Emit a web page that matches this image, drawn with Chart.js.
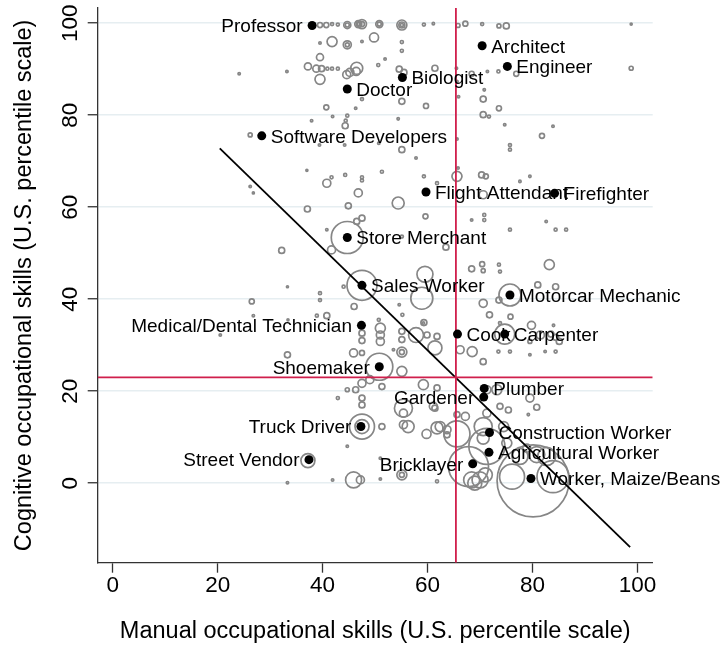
<!DOCTYPE html>
<html>
<head>
<meta charset="utf-8">
<script src="https://cdn.jsdelivr.net/npm/chart.js@4.4.1/dist/chart.umd.min.js"></script>
<style>
  html, body { margin: 0; padding: 0; background: #fff; }
  #skills { display: block; }
</style>
</head>
<body>
<canvas id="skills" width="724" height="648"></canvas>
<script>
// labelled occupations
var occNames = ['Professor', 'Architect', 'Engineer', 'Biologist', 'Doctor', 'Software Developers',
  'Flight Attendant', 'Firefighter', 'Store Merchant', 'Sales Worker', 'Motorcar Mechanic',
  'Medical/Dental Technician', 'Cook', 'Carpenter', 'Shoemaker', 'Plumber', 'Gardener',
  'Truck Driver', 'Construction Worker', 'Agricultural Worker', 'Street Vendor', 'Bricklayer',
  'Worker, Maize/Beans'];
var occManual = [38.0, 70.4, 75.2, 55.2, 44.7, 28.4, 59.7, 84.2, 44.7, 47.5, 75.7, 47.4, 65.7, 74.7,
  50.8, 70.8, 70.7, 47.3, 71.8, 71.7, 37.4, 68.6, 79.7];
var occCognitive = [99.5, 95.1, 90.6, 88.2, 85.7, 75.5, 63.3, 63.0, 53.4, 43.0, 40.9, 34.3, 32.4, 32.4,
  25.3, 20.6, 18.7, 12.3, 11.0, 6.7, 5.1, 4.2, 1.0];
var leftLabels = ['Professor', 'Medical/Dental Technician', 'Shoemaker', 'Gardener', 'Truck Driver',
  'Street Vendor', 'Bricklayer'];

// all other occupations (manual, cognitive, employment weight)
var grayManual = [
  39.5,40.7,41.8,42.9,44.7,46.8,47.5,50.8,55.1,59.3,
  61.1,65.8,67.2,70.4,73.6,75.0,98.8,39.5,41.8,44.7,
  44.7,47.5,49.8,55.1,55.1,39.5,37.2,38.8,39.8,40.9,
  41.8,42.9,44.6,45.2,46.5,46.4,39.5,33.2,50.6,51.9,
  54.6,55.5,61.4,47.5,55.1,59.7,40.7,46.3,70.6,65.9,
  71.4,73.5,24.1,65.5,68.4,76.9,65.6,70.8,73.6,70.6,
  71.7,74.7,83.9,81.8,75.7,75.7,65.6,98.8,37.9,41.9,
  44.7,44.4,44.3,54.4,26.2,39.4,44.2,50.7,55.1,57.8,
  65.8,37.0,41.7,40.8,44.3,47.5,47.5,51.3,59.3,61.8,
  65.6,70.3,71.1,79.5,77.6,54.4,46.8,44.9,37.1,26.2,
  26.8,70.6,70.8,70.8,68.4,59.6,47.5,46.5,40.8,32.2,
  41.7,44.7,55.1,63.5,75.7,82.6,84.4,86.4,83.2,68.4,
  70.4,70.6,73.6,73.8,47.5,59.5,58.9,81.0,84.4,75.7,
  70.6,73.6,26.5,33.3,39.5,39.5,44.0,46.0,54.6,26.8,
  38.9,40.8,50.7,55.2,59.3,71.8,75.8,73.8,79.8,84.0,
  81.5,84.4,83.5,85.1,74.7,79.5,84.4,82.4,79.5,75.7,
  73.5,47.5,47.5,20.5,33.4,51.0,51.0,51.0,55.1,55.1,
  57.8,59.2,59.9,61.8,61.4,66.2,68.5,70.6,55.1,55.1,
  53.5,45.9,47.5,33.3,50.8,55.1,59.2,61.8,47.5,49.0,
  46.3,44.7,51.3,42.9,47.5,47.5,55.4,55.4,56.3,55.4,
  61.4,61.8,63.7,65.6,59.8,67.2,65.6,71.3,73.8,75.4,
  79.5,80.8,79.2,70.6,71.3,67.8,68.4,70.0,71.0,69.0,
  76.1,80.1,83.9,82.7,80.8,77.6,78.9,75.1,70.6,73.2,
  71.3,61.8,45.9,47.2,55.1,55.1,51.0,33.3,41.9,51.0,
  44.7,47.5,51.3,62.4,63.7,37.2,61.1,74.5,47.5,44.7,
  46.8,47.5,50.8,55.1,55.1];
var grayCognitive = [
  99.6,99.6,99.8,99.7,99.6,99.8,99.8,99.8,99.6,99.7,
  99.9,99.5,99.9,99.8,99.4,99.4,99.8,95.7,96.0,95.3,
  95.3,96.0,96.9,95.9,94.0,92.6,90.6,90.1,90.1,90.1,
  90.1,90.1,88.8,89.3,90.2,89.5,87.8,89.5,90.9,92.2,
  90.0,89.3,90.2,83.5,83.0,82.0,81.7,81.5,83.5,84.0,
  89.5,89.5,89.0,90.2,89.0,89.0,87.3,85.5,81.5,80.1,
  79.7,77.9,77.6,75.5,73.5,72.5,74.8,90.2,78.8,79.7,
  79.9,78.8,77.7,79.2,75.7,73.5,73.5,73.9,72.5,70.7,
  68.5,68.0,66.5,65.2,67.0,66.5,65.8,67.7,66.7,65.2,
  66.7,67.0,66.7,66.7,65.6,60.9,63.1,60.3,59.6,64.5,
  63.1,62.7,58.3,57.2,57.2,58.0,57.6,56.9,55.1,50.6,
  50.7,53.4,53.6,51.3,55.1,56.9,55.1,55.1,47.5,46.6,
  47.6,46.2,47.5,46.0,43.0,45.4,40.2,43.1,42.7,40.9,
  39.1,39.8,39.5,42.7,41.3,39.8,42.7,38.4,38.8,36.4,
  36.4,36.4,35.5,36.6,34.9,36.6,36.2,34.8,34.3,34.3,
  32.2,31.7,32.4,30.8,32.4,30.8,28.6,28.6,27.9,28.6,
  28.6,32.6,31.0,32.2,35.5,33.7,32.2,30.8,33.0,31.2,
  32.2,34.8,32.2,31.9,29.4,29.0,28.6,26.4,28.5,28.5,
  29.0,28.3,28.3,27.9,25.3,24.3,21.4,20.7,21.7,22.5,
  20.3,20.3,21.0,18.5,18.5,17.0,16.3,15.2,12.3,12.7,
  16.3,12.0,11.6,10.7,10.7,14.5,14.9,15.2,16.7,15.9,
  18.5,16.5,14.9,12.3,8.0,3.6,0.7,0.7,1.8,0.0,
  1.4,0.5,1.4,5.8,6.2,5.8,7.6,8.7,9.8,20.3,
  20.3,0.4,0.7,0.7,1.8,1.8,0.9,0.1,0.7,5.4,
  8.0,12.3,12.3,12.3,10.5,4.9,16.7,12.3,12.3,99.6,
  99.8,99.8,99.8,99.6,99.6];
var grayEmp = [
  6.3,6.3,2.3,2.3,12.3,12.3,20.3,12.3,25,2.3,
  1.4,4,6.3,2.3,4,9,1,1.4,25,16,
  4,1.4,20.3,2.3,2.3,12.3,12.3,12.3,9,2.3,
  2.3,2.3,16,16,36,16,25,1.4,2.3,1.4,
  9,9,9,2.3,9,6.3,6.3,1.4,9,1.4,
  1.4,2.3,1.4,1.4,6.3,6.3,1.4,1.4,6.3,9,
  2.3,1.4,1.4,6.3,2.3,2.3,1.4,4,1.4,1.4,
  2.3,2.3,9,1.4,4,1.4,1.4,1.4,9,1.4,
  1.4,1,2.3,16,2.3,2.3,2.3,2.3,2.3,2.3,
  25,9,6.3,1.4,1.4,36,16,9,9,1.4,
  1,16,2.3,2.3,1.4,6.3,9,9,1.4,9,
  16,256,2.3,9,2.3,1.4,2.3,2.3,25,9,
  6.3,4,2.3,2.3,225,64,121,9,9,121,
  16,9,6.3,1,2.3,2.3,2.3,9,1.4,1.4,
  2.3,9,2.3,2.3,9,9,6.3,2.3,16,1.4,
  16,9,9,9,100,4,2.3,1.4,1.4,2.3,
  2.3,9,9,1.4,1,25,16,16,9,9,
  56,1.4,9,9,49,16,25,9,25,6.3,
  1.4,16,6.3,9,182,25,25,9,16,16,
  9,4,9,2.3,9,9,81,16,36,16,
  9,36,16,169,20.3,16,9,16,9,9,
  16,9,1.4,81,324,400,64,64,49,49,
  156,1296,256,81,64,64,16,25,36,25,
  16,2.3,64,16,25,6.3,1.4,1.4,1.4,1.4,
  1.4,156,9,25,9,49,16,25,49,4,
  4,6.3,4,9,2.3];

// fitted line, means, axes
var fitX = [20.4, 98.6];
var fitY = [72.8, -13.9];
var meanManual = 65.4;
var meanCognitive = 23.0;
var xRange = [-2.86, 102.9];
var yRange = [-17.3, 103.3];
var xTicks = [0, 20, 40, 60, 80, 100];
var yTicks = [0, 20, 40, 60, 80, 100];

var FONT = "'Liberation Sans', Arial, Helvetica, sans-serif";
var RED = '#d01f4c';

var grayPts = [];
for (var i = 0; i < grayManual.length; i++) {
  grayPts.push({ x: grayManual[i], y: grayCognitive[i], r: Math.sqrt(grayEmp[i]) });
}
var occPts = [];
for (var j = 0; j < occNames.length; j++) {
  occPts.push({ x: occManual[j], y: occCognitive[j] });
}

// occupation names beside the black points
var occLabels = {
  id: 'occLabels',
  afterDatasetsDraw: function(chart) {
    var ctx = chart.ctx, xs = chart.scales.x, ys = chart.scales.y;
    ctx.save();
    ctx.font = '19px ' + FONT;
    ctx.fillStyle = '#000';
    ctx.textBaseline = 'alphabetic';
    for (var k = 0; k < occNames.length; k++) {
      var px = xs.getPixelForValue(occManual[k]);
      var py = ys.getPixelForValue(occCognitive[k]) + 6.8;
      if (leftLabels.indexOf(occNames[k]) >= 0) {
        ctx.textAlign = 'right';
        ctx.fillText(occNames[k], px - 9.5, py);
      } else {
        ctx.textAlign = 'left';
        ctx.fillText(occNames[k], px + 9, py);
      }
    }
    ctx.restore();
  }
};

// vertical y tick labels
var yTickLabels = {
  id: 'yTickLabels',
  afterDraw: function(chart) {
    var ctx = chart.ctx, ys = chart.scales.y;
    ctx.save();
    ctx.font = '22.5px ' + FONT;
    ctx.fillStyle = '#000';
    ctx.textAlign = 'center';
    ctx.textBaseline = 'alphabetic';
    ys.ticks.forEach(function(t) {
      ctx.save();
      ctx.translate(ys.right - 20.5, ys.getPixelForValue(t.value));
      ctx.rotate(-Math.PI / 2);
      ctx.fillText(String(t.value), 0, 0);
      ctx.restore();
    });
    ctx.restore();
  }
};

var ctx = document.getElementById('skills').getContext('2d');
var chart = new Chart(ctx, {
  type: 'scatter',
  data: {
    datasets: [
      {
        label: 'Selected occupations',
        data: occPts,
        pointRadius: 4.5,
        backgroundColor: '#000',
        borderColor: '#000',
        borderWidth: 0
      },
      {
        label: 'Mean manual',
        data: [{ x: meanManual, y: yRange[0] }, { x: meanManual, y: yRange[1] }],
        showLine: true,
        pointRadius: 0,
        borderColor: RED,
        borderWidth: 1.8
      },
      {
        label: 'Mean cognitive',
        data: [{ x: xRange[0], y: meanCognitive }, { x: xRange[1], y: meanCognitive }],
        showLine: true,
        pointRadius: 0,
        borderColor: RED,
        borderWidth: 1.8
      },
      {
        label: 'Fitted values',
        data: [{ x: fitX[0], y: fitY[0] }, { x: fitX[1], y: fitY[1] }],
        showLine: true,
        pointRadius: 0,
        borderColor: '#000',
        borderWidth: 1.8
      },
      {
        type: 'bubble',
        label: 'Occupations',
        data: grayPts,
        backgroundColor: 'rgba(0,0,0,0)',
        borderColor: '#868686',
        borderWidth: 1.7
      }
    ]
  },
  options: {
    responsive: false,
    animation: false,
    events: [],
    layout: { autoPadding: false, padding: { left: 0, top: 8, right: 71.3, bottom: 0 } },
    plugins: {
      legend: { display: false },
      tooltip: { enabled: false }
    },
    scales: {
      x: {
        type: 'linear',
        min: xRange[0],
        max: xRange[1],
        afterBuildTicks: function(s) { s.ticks = xTicks.map(function(v) { return { value: v }; }); },
        afterFit: function(s) { s.height = 85.3; },
        grid: { drawOnChartArea: false, tickLength: 10, tickColor: '#333', tickWidth: 1.3 },
        border: { color: '#333', width: 1.3 },
        ticks: {
          font: { family: FONT, size: 22.5 },
          color: '#000',
          padding: 0,
          maxRotation: 0,
          autoSkip: false
        },
        title: {
          display: true,
          text: 'Manual occupational skills (U.S. percentile scale)',
          font: { family: FONT, size: 23.5 },
          color: '#000',
          padding: { top: 0, bottom: 2.2 }
        }
      },
      y: {
        type: 'linear',
        min: yRange[0],
        max: yRange[1],
        afterBuildTicks: function(s) { s.ticks = yTicks.map(function(v) { return { value: v }; }); },
        afterFit: function(s) { s.width = 97.7; },
        grid: { color: '#e6eef1', lineWidth: 1.5, tickLength: 10, tickColor: '#333', tickWidth: 1.3 },
        border: { color: '#333', width: 1.3 },
        ticks: { display: false },
        title: {
          display: true,
          text: 'Cognitive occupational skills (U.S. percentile scale)',
          font: { family: FONT, size: 23.5 },
          color: '#000',
          padding: { top: 10.9, bottom: 0 }
        }
      }
    }
  },
  plugins: [occLabels, yTickLabels]
});
</script>
</body>
</html>
